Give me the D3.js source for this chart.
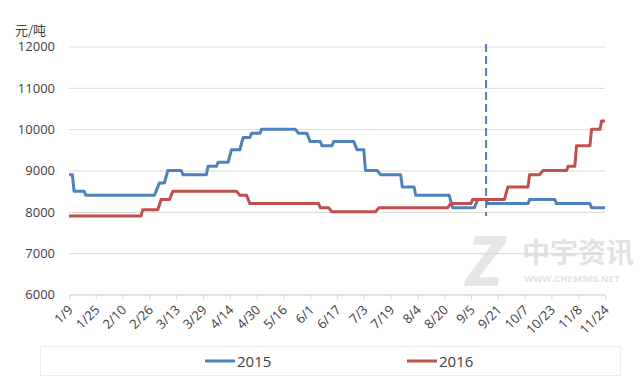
<!DOCTYPE html>
<html><head><meta charset="utf-8">
<script src="https://cdn.jsdelivr.net/npm/d3@7"></script>
<style>body{margin:0;background:#fff}svg{display:block}</style>
</head><body>
<svg id="c" width="640" height="384"></svg>
<script>
const yTicks = [6000, 7000, 8000, 9000, 10000, 11000, 12000];
const xTickLabels = ["1/9","1/25","2/10","2/26","3/13","3/29","4/14","4/30","5/16","6/1","6/17","7/3","7/19","8/4","8/20","9/5","9/21","10/7","10/23","11/8","11/24"];
const seriesNames = ["2015", "2016"];
const unitLabel = "元/吨";
const markerDate = "9/14";

const dates2015 = ["1/9","1/11","1/12","1/18","1/19","2/29","3/1","3/3","3/6","3/8","3/16","3/17","3/31","4/1","4/6","4/7","4/13","4/15","4/20","4/22","4/26","4/27","5/2","5/3","5/23","5/25","5/30","6/1","6/7","6/8","6/14","6/15","6/27","6/29","7/3","7/4","7/11","7/13","7/25","7/26","8/2","8/3","8/23","8/25","9/7","9/9","9/14","9/15","10/9","10/10","10/25","10/26","11/15","11/16","11/24"];
const values2015 = [8900,8900,8500,8500,8400,8400,8500,8700,8700,9000,9000,8900,8900,9100,9100,9200,9200,9500,9500,9800,9800,9900,9900,10000,10000,9900,9900,9700,9700,9600,9600,9700,9700,9500,9500,9000,9000,8900,8900,8600,8600,8400,8400,8100,8100,8300,8300,8200,8200,8300,8300,8200,8200,8100,8100];

const dates2016 = ["1/9","2/21","2/22","3/2","3/4","3/9","3/11","4/18","4/20","4/24","4/26","6/6","6/7","6/12","6/14","7/10","7/12","8/22","8/24","9/5","9/6","9/25","9/27","10/9","10/10","10/16","10/18","11/1","11/2","11/6","11/7","11/15","11/16","11/21","11/22","11/24"];
const values2016 = [7900,7900,8050,8050,8300,8300,8500,8500,8400,8400,8200,8200,8100,8100,8000,8000,8100,8100,8200,8200,8300,8300,8600,8600,8900,8900,9000,9000,9100,9100,9600,9600,10000,10000,10200,10200];

const colors = ["#4F81BD", "#C0504D"];
const font = "'Open Sans', 'Noto Sans', sans-serif";

const parse = s => { const [m, d] = s.split("/").map(Number); return new Date(2016, m - 1, d); };
const svg = d3.select("#c");
svg.append("rect").attr("width", 640).attr("height", 384).attr("fill", "#fff");

const x = d3.scaleTime().domain([parse("1/9"), parse("11/24")]).range([69, 605]);
const y = d3.scaleLinear().domain([6000, 12000]).range([294.5, 46.5]);

// watermark
const wm = svg.append("g").attr("fill", "#e2e2e2").style("font-family", font);
wm.append("text").attr("x", 466).attr("y", 286).attr("font-size", 70).attr("font-weight", "bold")
  .attr("font-style", "italic").attr("fill", "#e6e6e6").text("Z");
wm.append("text").attr("x", 522).attr("y", 263).attr("font-size", 28).attr("font-weight", "bold")
  .style("font-family", "'Noto Sans CJK SC', sans-serif").text("中宇资讯");
wm.append("text").attr("x", 524).attr("y", 282).attr("font-size", 9.5).attr("font-weight", "bold")
  .text("WWW.CHEM365.NET");

// grid + y labels
const gy = svg.append("g").attr("transform", "translate(69,0)")
  .call(d3.axisLeft(y).tickValues(yTicks).tickSize(-536).tickPadding(14).tickFormat(d3.format("d")));
gy.select(".domain").remove();
gy.selectAll(".tick line").attr("stroke", "#d9d9d9");
gy.selectAll(".tick text").attr("fill", "#404040").style("font-family", font).style("font-size", "13px");

// x axis
const gx = svg.append("g").attr("transform", "translate(0,294.5)")
  .call(d3.axisBottom(x).tickValues(xTickLabels.map(parse)).tickSize(5)
    .tickFormat(d => (d.getMonth() + 1) + "/" + d.getDate()));
gx.select(".domain").attr("stroke", "#d9d9d9");
gx.selectAll(".tick line").attr("stroke", "#d9d9d9");
gx.selectAll(".tick text").attr("fill", "#404040").style("font-family", font).style("font-size", "13px")
  .attr("x", 0).attr("y", 0).attr("dy", "0.35em").style("text-anchor", "end")
  .attr("transform", "translate(1,13) rotate(-45)");

// unit label
svg.append("text").attr("x", 15).attr("y", 35).attr("fill", "#404040")
  .style("font-family", "'Noto Sans CJK SC', sans-serif").style("font-size", "13px").text(unitLabel);

// marker dashed line
svg.append("line").attr("x1", x(parse(markerDate))).attr("x2", x(parse(markerDate)))
  .attr("y1", 44).attr("y2", 216).attr("stroke", colors[0]).attr("stroke-width", 2)
  .attr("stroke-dasharray", "8,4");

// series lines
const line = d3.line().x(d => x(parse(d[0]))).y(d => y(d[1]));
const series = [d3.zip(dates2015, values2015), d3.zip(dates2016, values2016)];
series.forEach((s, i) => {
  svg.append("path").datum(s).attr("d", line).attr("fill", "none")
    .attr("stroke", colors[i]).attr("stroke-width", 3).attr("stroke-linejoin", "round");
});

// legend
svg.append("rect").attr("x", 40.5).attr("y", 346.5).attr("width", 580).attr("height", 29)
  .attr("fill", "none").attr("stroke", "#ececec");
const legX = [205, 407];
seriesNames.forEach((n, i) => {
  svg.append("line").attr("x1", legX[i]).attr("x2", legX[i] + 30).attr("y1", 361).attr("y2", 361)
    .attr("stroke", colors[i]).attr("stroke-width", 3);
  svg.append("text").attr("x", legX[i] + 32).attr("y", 366.5).attr("fill", "#404040")
    .style("font-family", font).style("font-size", "15px").text(n);
});
</script>
</body></html>
